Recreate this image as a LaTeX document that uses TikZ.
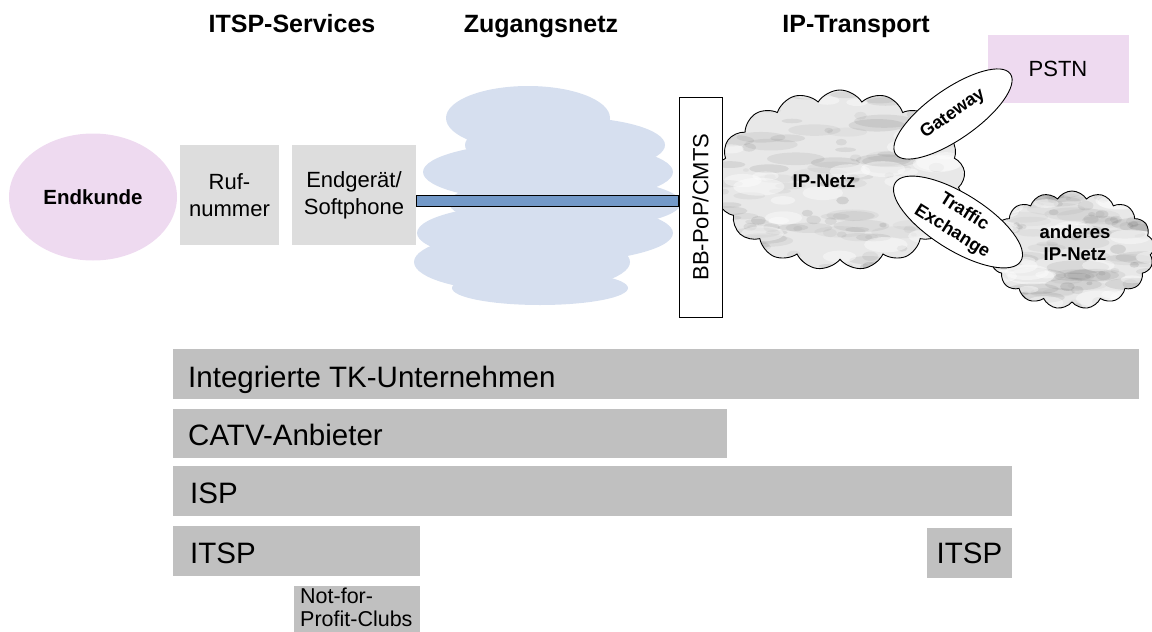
\documentclass[tikz,border=0pt]{standalone}
\usepackage{fontspec}
\setmainfont{Liberation Sans}
\usetikzlibrary{shapes.geometric,shapes.symbols,calc}
\definecolor{pinkc}{RGB}{238,218,240}
\definecolor{boxgray}{RGB}{221,221,221}
\definecolor{bargray}{RGB}{192,192,192}
\definecolor{cloudblue}{RGB}{214,223,239}
\definecolor{barblue}{RGB}{115,153,200}
\definecolor{marblebase}{RGB}{232,232,232}
\tikzset{
  marble/.style={path picture={
    \pgfpointanchor{path picture bounding box}{south west}\pgfgetlastxy\ppxa\ppya
    \pgfpointanchor{path picture bounding box}{north east}\pgfgetlastxy\ppxb\ppyb
    \pgfmathsetseed{#1}
    \foreach \k in {1,...,70}{
      \pgfmathsetmacro\xx{\ppxa+(\ppxb-\ppxa)*rnd}
      \pgfmathsetmacro\yy{\ppya+(\ppyb-\ppya)*rnd}
      \pgfmathsetmacro\rr{10+22*rnd}
      \pgfmathsetmacro\ry{0.22*\rr}
      \pgfmathsetmacro\oo{0.04+0.08*rnd}
      \pgfmathsetmacro\aa{10+40*rnd}
      \fill[black!70,opacity=\oo,rotate around={\aa:(\xx pt,\yy pt)}]
        (\xx pt,\yy pt) ellipse [x radius=\rr pt, y radius=\ry pt];
    }
    \foreach \k in {1,...,50}{
      \pgfmathsetmacro\xx{\ppxa+(\ppxb-\ppxa)*rnd}
      \pgfmathsetmacro\yy{\ppya+(\ppyb-\ppya)*rnd}
      \pgfmathsetmacro\rr{3+5*rnd}
      \pgfmathsetmacro\ry{0.6*\rr}
      \pgfmathsetmacro\oo{0.05+0.10*rnd}
      \fill[black!70,opacity=\oo] (\xx pt,\yy pt) ellipse [x radius=\rr pt, y radius=\ry pt];
    }
    \foreach \k in {1,...,30}{
      \pgfmathsetmacro\xx{\ppxa+(\ppxb-\ppxa)*rnd}
      \pgfmathsetmacro\yy{\ppya+(\ppyb-\ppya)*rnd}
      \pgfmathsetmacro\rr{10+16*rnd}
      \pgfmathsetmacro\ry{0.35*\rr}
      \pgfmathsetmacro\aa{10+40*rnd}
      \fill[white,opacity=0.4,rotate around={\aa:(\xx pt,\yy pt)}]
        (\xx pt,\yy pt) ellipse [x radius=\rr pt, y radius=\ry pt];
    }
  }},
  title/.style={font=\fontsize{25}{30}\selectfont\bfseries, anchor=base, inner sep=0},
  greybox/.style={rectangle, fill=boxgray, inner sep=0, outer sep=0, align=center,
    font=\fontsize{22}{27}\selectfont},
  bar/.style={rectangle, fill=bargray, inner sep=0, outer sep=0, anchor=north west},
  barlabel/.style={font=\fontsize{29.5}{34}\selectfont, anchor=base west, inner sep=0},
  outl/.style={draw=black, line width=0.9pt},
  ovalnode/.style={ellipse, outl, fill=white, inner sep=0, align=center,
    font=\fontsize{18}{21}\selectfont\bfseries},
  ipcloud/.style={cloud, cloud puffs=17, cloud puff arc=115, outl, fill=marblebase, inner sep=0},
  cloudtext/.style={font=\fontsize{18.5}{22}\selectfont\bfseries, align=center, inner sep=0},
}
\begin{document}
\begin{tikzpicture}[x=1pt,y=-1pt]
\useasboundingbox (0,0) rectangle (1152,632);

% titles
\node[title] (t1) at (292,32) {ITSP-Services};
\node[title] (t2) at (541,32) {Zugangsnetz};
\node[title] (t3) at (856,32) {IP-Transport};

% access network cloud
\begin{scope}[fill=cloudblue]
  \fill (528,118) ellipse [x radius=82, y radius=32];
  \fill (565,145) ellipse [x radius=100, y radius=28];
  \fill (548,172) ellipse [x radius=125, y radius=30];
  \fill (565,203) ellipse [x radius=116, y radius=26];
  \fill (545,233) ellipse [x radius=128, y radius=30];
  \fill (522,262) ellipse [x radius=108, y radius=30];
  \fill (540,288) ellipse [x radius=88, y radius=17];
\end{scope}

% end customer and ITSP services
\node[ellipse, fill=pinkc, minimum width=168, minimum height=127, inner sep=0,
  font=\fontsize{20.5}{24}\selectfont\bfseries] (endkunde) at (93,197) {Endkunde};
\node[greybox, minimum width=99, minimum height=100] (ruf) at (229.5,195) {Ruf-\\nummer};
\node[greybox, minimum width=124, minimum height=100] (endg) at (354,195) {Endgerät/\\Softphone};

% IP network
\node[ipcloud, minimum width=250, minimum height=180, marble=11] (ipnetz) at (840,180) {};
\node[cloudtext] (iplabel) at (824,181) {IP-Netz};

% BB-PoP box
\node[rectangle, outl, fill=white, minimum width=43, minimum height=220, inner sep=0]
  (bb) at (700.5,207) {};
\node[rotate=90, font=\fontsize{22}{26}\selectfont, inner sep=0] (bblabel) at (bb.center) {BB-PoP/CMTS};

% access line
\filldraw[fill=barblue, draw=black, line width=0.9pt]
  (endg.east) rectangle ([yshift=-11pt]endg.east -| bb.west);

% other IP network
\node[ipcloud, minimum width=165, minimum height=118, marble=23] (anderes) at (1072,250) {};
\node[cloudtext] (anderlabel) at (1075,243) {anderes\\IP-Netz};

% PSTN
\node[rectangle, fill=pinkc, minimum width=141, minimum height=68, inner sep=0,
  font=\fontsize{22}{26}\selectfont] (pstn) at (1058,69) {PSTN};

% gateway & traffic exchange
\node[ovalnode, minimum width=140, minimum height=50, rotate=35] (gw) at (953,114) {Gateway};
\node[ovalnode, minimum width=148, minimum height=52, rotate=-32,
  font=\fontsize{18}{23}\selectfont\bfseries] (tx) at (958,222) {Traffic\\Exchange};

% provider bars
\node[bar, minimum width=966, minimum height=50] (tk) at (173,349) {};
\node[barlabel] (tklabel) at ([xshift=15pt,yshift=-13pt]tk.west) {Integrierte TK-Unternehmen};
\node[bar, minimum width=554, minimum height=49] (catv) at (173,409) {};
\node[barlabel] (catvlabel) at ([xshift=15pt,yshift=-12pt]catv.west) {CATV-Anbieter};
\node[bar, minimum width=839, minimum height=50] (isp) at (173,466) {};
\node[barlabel] (isplabel) at ([xshift=17pt,yshift=-12pt]isp.west) {ISP};
\node[bar, minimum width=247, minimum height=50] (itspa) at (173,526) {};
\node[barlabel] (itspalabel) at ([xshift=17pt,yshift=-12pt]itspa.west) {ITSP};
\node[bar, minimum width=85, minimum height=50, font=\fontsize{29.5}{34}\selectfont] (itspb) at (927,528) {ITSP};
\node[bar, minimum width=126, minimum height=46] (nfp) at (294,586) {};
\node[font=\fontsize{21.5}{23}\selectfont, align=left, anchor=north west, inner sep=0]
  (nfplabel) at (300,588) {Not-for-\\Profit-Clubs};
\end{tikzpicture}
\end{document}
